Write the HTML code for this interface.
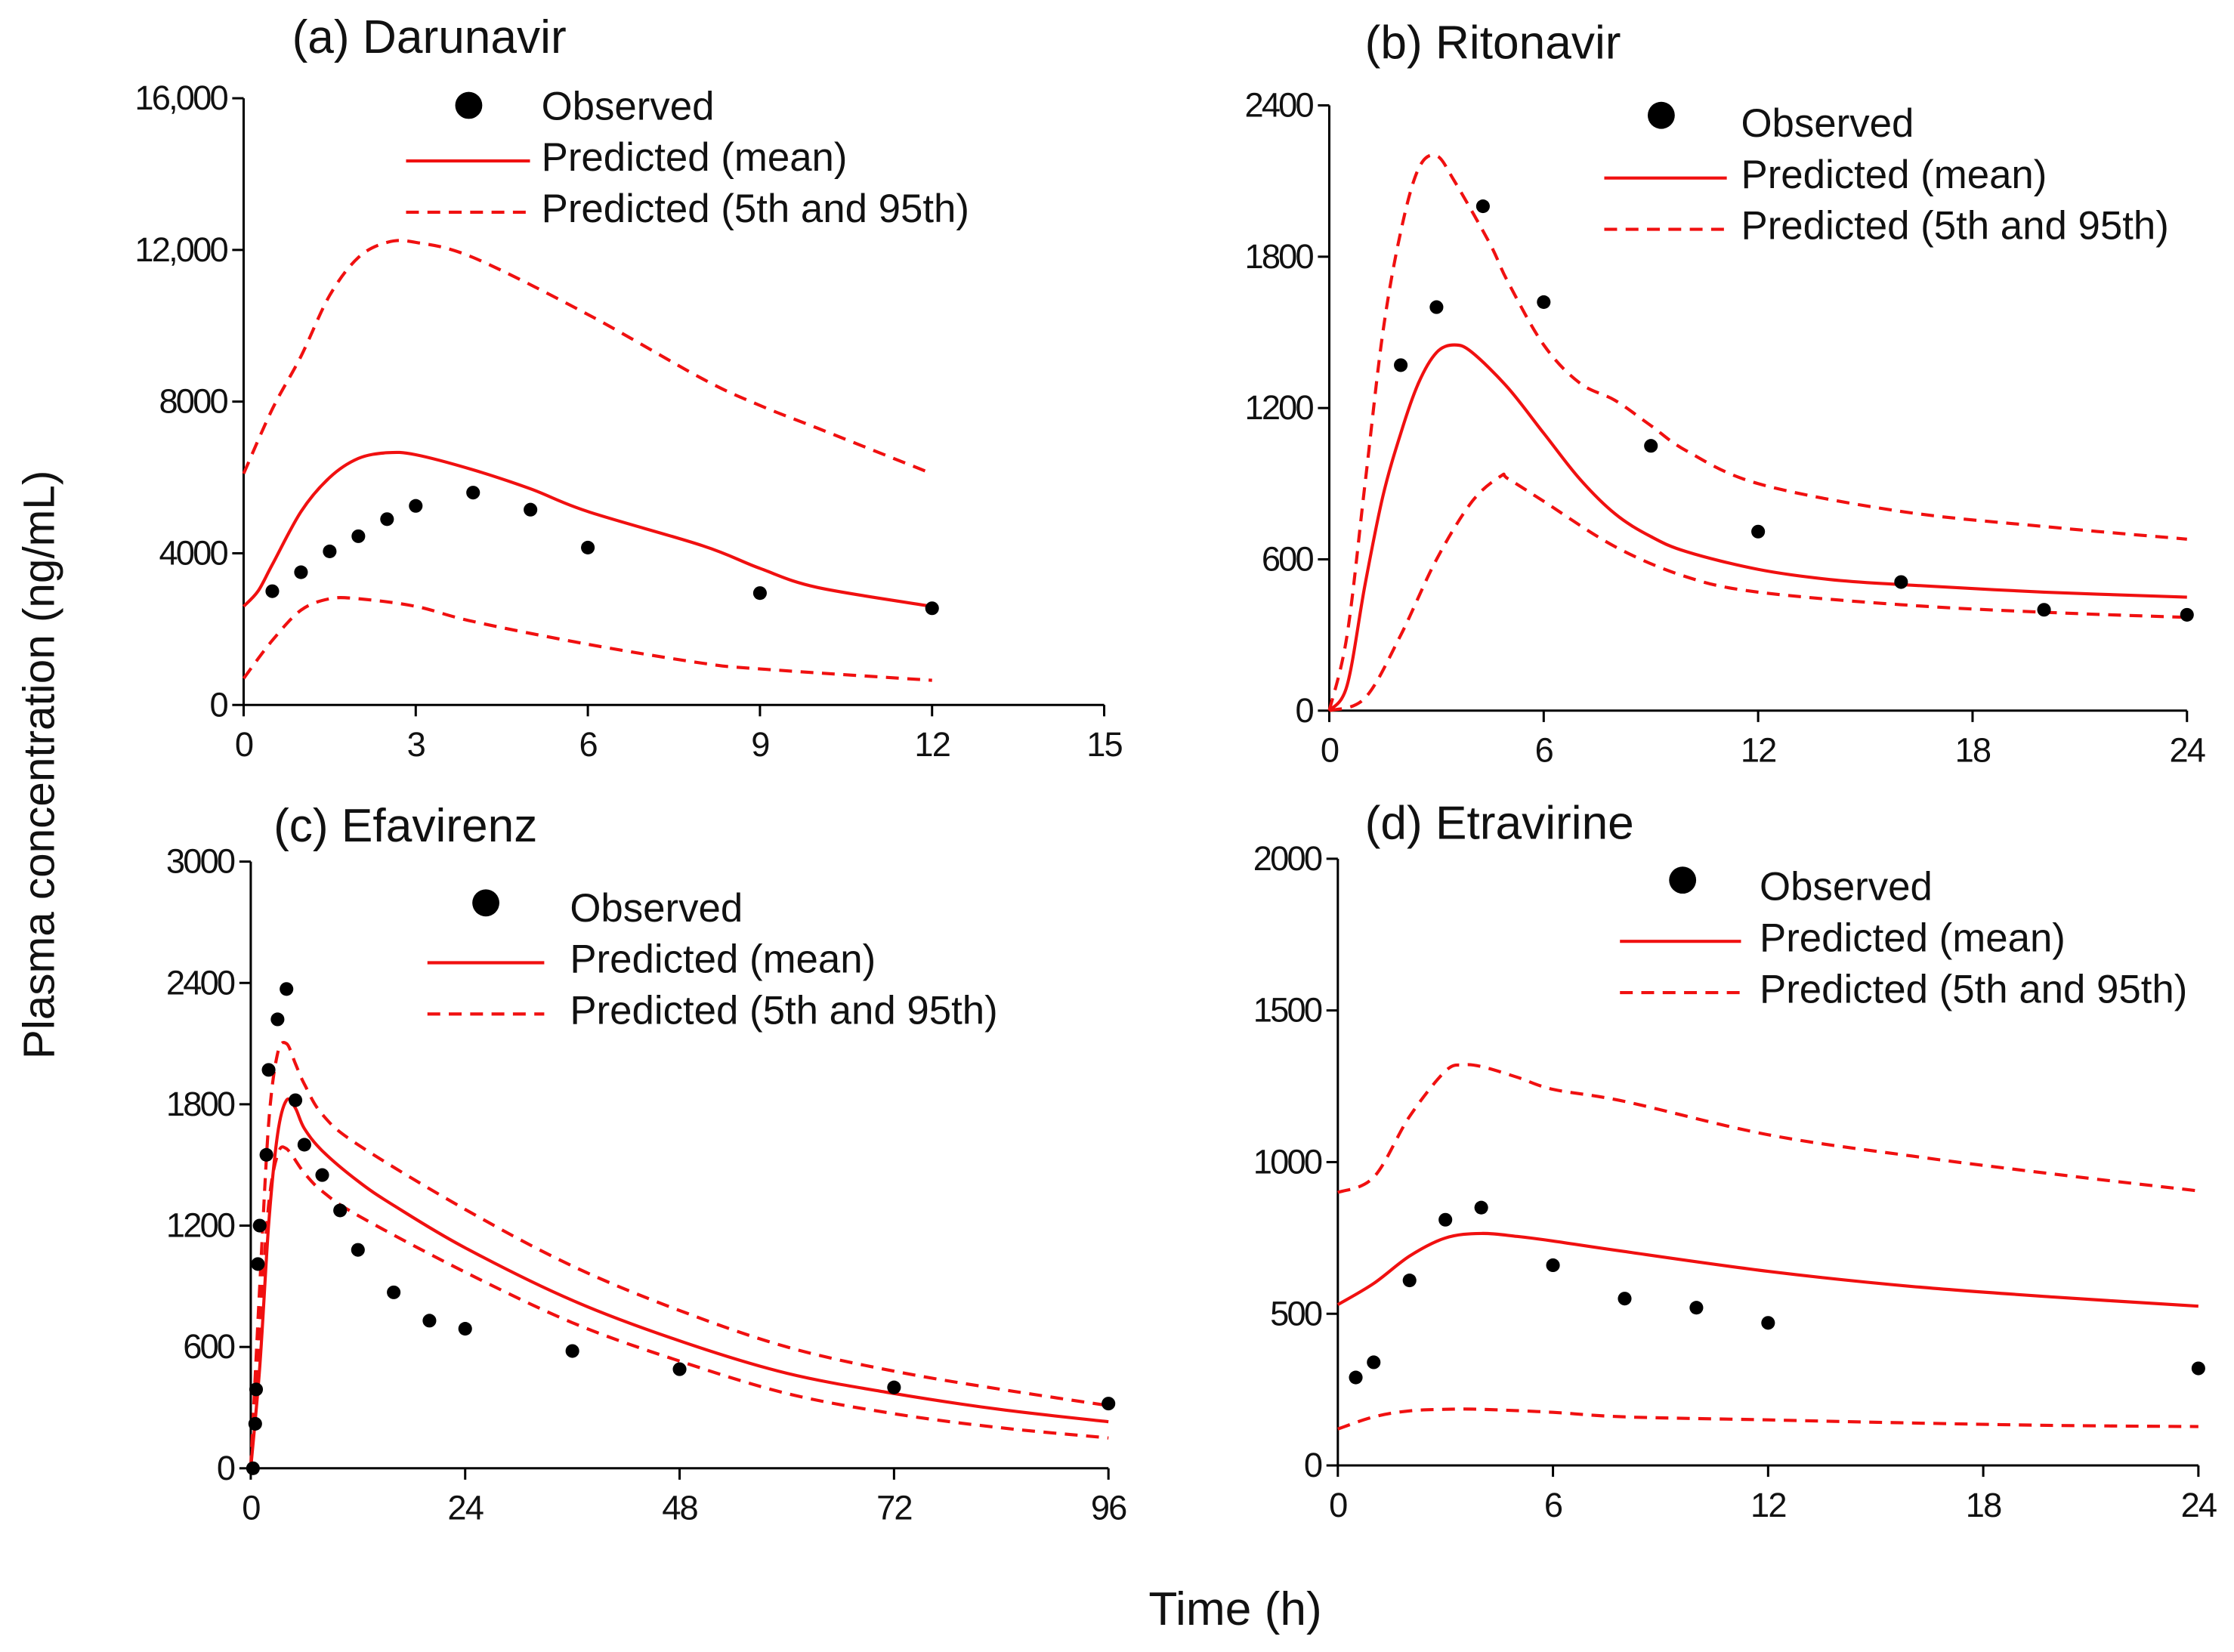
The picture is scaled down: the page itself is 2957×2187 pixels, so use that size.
<!DOCTYPE html>
<html><head><meta charset="utf-8"><style>
html,body{margin:0;padding:0;background:#fff}
svg{display:block}
text{font-family:"Liberation Sans",sans-serif;fill:#111}
</style></head><body>
<svg id="fig" width="2957" height="2187" viewBox="0 0 1568 1160" preserveAspectRatio="none" xmlns="http://www.w3.org/2000/svg">
<text transform="translate(38,537) rotate(-90)" text-anchor="middle" font-size="31">Plasma concentration (ng/mL)</text>
<text x="867" y="1141" text-anchor="middle" font-size="33">Time (h)</text>
</svg>
<script>
// Panel A: Darunavir
const aObsT=[0.5,1,1.5,2,2.5,3,4,5,6,9,12];
const aObsC=[3000,3500,4050,4450,4900,5250,5600,5150,4150,2950,2550];
const aMeanT=[0,0.25,0.5,1,1.5,2,2.5,3,4,5,6,8,9,10,12];
const aMeanC=[2600,3000,3700,5100,6000,6500,6650,6600,6200,5700,5100,4200,3600,3100,2600];
const aUpT=[0,0.5,1,1.5,2,2.5,3,4,6,8,9,10,12];
const aUpC=[6100,7800,9200,10800,11800,12200,12200,11800,10300,8600,7900,7300,6100];
const aLoT=[0,0.5,1,1.5,2,3,4,6,8,9,12];
const aLoC=[700,1700,2500,2800,2800,2600,2200,1600,1100,950,650];
const aXTicks=[0,3,6,9,12,15];
const aYTicks=[0,4000,8000,12000,16000];
const aYLabels=["0","4000","8000","12,000","16,000"];
// Panel B: Ritonavir
const bObsT=[2,3,4.3,6,9,12,16,20,24];
const bObsC=[1370,1600,2000,1620,1050,710,510,400,380];
const bMeanT=[0,0.5,1,1.5,2,2.5,3,3.5,4,5,6,7,8,9,10,12,14,16,20,24];
const bMeanC=[0,100,500,850,1100,1300,1420,1450,1420,1280,1100,920,780,690,630,560,520,500,470,450];
const bUpT=[0,0.5,1,1.5,2,2.5,3,3.5,4.5,5,6,7,8,9,10,12,16,20,24];
const bUpC=[0,300,900,1500,1900,2150,2200,2100,1850,1700,1450,1300,1230,1130,1030,900,790,730,680];
const bLoT=[0,1,2,3,4,4.8,5,6,8,10,12,16,20,24];
const bLoC=[0,50,300,600,830,930,920,830,650,530,470,420,390,370];
const bXTicks=[0,6,12,18,24];
const bYTicks=[0,600,1200,1800,2400];
const bYLabels=["0","600","1200","1800","2400"];
// Panel C: Efavirenz
const cObsT=[0.25,0.5,0.6,0.8,1,1.75,2,3,4,5,6,8,10,12,16,20,24,36,48,72,96];
const cObsC=[0,220,390,1010,1200,1550,1970,2220,2370,1820,1600,1450,1275,1080,870,730,690,580,490,400,320];
const cMeanT=[0,1,2,3,4,5,6,8,12,16,24,36,48,60,72,84,96];
const cMeanC=[0,500,1200,1650,1820,1780,1680,1570,1420,1300,1090,830,630,470,370,290,230];
const cUpT=[0,1,2,3,4,5,6,8,12,24,36,48,60,72,84,96];
const cUpC=[0,900,1700,2050,2100,2000,1900,1750,1600,1280,1000,780,600,480,390,310];
const cLoT=[0,1,2,3,4,6,8,12,24,36,48,60,72,84,96];
const cLoC=[0,700,1300,1550,1580,1460,1370,1250,970,720,530,370,270,200,150];
const cXTicks=[0,24,48,72,96];
const cYTicks=[0,600,1200,1800,2400,3000];
const cYLabels=["0","600","1200","1800","2400","3000"];
// Panel D: Etravirine
const dObsT=[0.5,1,2,3,4,6,8,10,12,24];
const dObsC=[290,340,610,810,850,660,550,520,470,320];
const dMeanT=[0,1,2,3,4,5,6,8,12,16,20,24];
const dMeanC=[530,600,690,750,765,755,740,705,640,590,555,525];
const dUpT=[0,1,2,3,3.5,4,5,6,8,12,16,20,24];
const dUpC=[900,950,1150,1300,1320,1315,1280,1240,1200,1090,1020,960,905];
const dLoT=[0,1,2,3,4,6,8,12,16,20,24];
const dLoC=[120,160,180,185,185,175,160,150,140,132,128];
const dXTicks=[0,6,12,18,24];
const dYTicks=[0,500,1000,1500,2000];
const dYLabels=["0","500","1000","1500","2000"];

const NS="http://www.w3.org/2000/svg";
const svg=document.getElementById('fig');
function mk(tag,attrs,parent){const e=document.createElementNS(NS,tag);for(const k in attrs)e.setAttribute(k,attrs[k]);(parent||svg).appendChild(e);return e;}

const panels=[
 {key:'a',title:'(a) Darunavir',tx:205,ty:37,x0:171,x1:775,xmax:15,y0:495,y1:69,ymax:16000,
  obsT:aObsT,obsC:aObsC,meanT:aMeanT,meanC:aMeanC,upT:aUpT,upC:aUpC,loT:aLoT,loC:aLoC,xt:aXTicks,yt:aYTicks,yl:aYLabels,
  leg:{dotX:329,dotY:74,tx:380,ys:[74,110,146],lx0:285,lx1:372}},
 {key:'b',title:'(b) Ritonavir',tx:958,ty:41,x0:933,x1:1535,xmax:24,y0:499,y1:74,ymax:2400,
  obsT:bObsT,obsC:bObsC,meanT:bMeanT,meanC:bMeanC,upT:bUpT,upC:bUpC,loT:bLoT,loC:bLoC,xt:bXTicks,yt:bYTicks,yl:bYLabels,
  leg:{dotX:1166,dotY:81,tx:1222,ys:[86,122,158],lx0:1126,lx1:1212}},
 {key:'c',title:'(c)  Efavirenz',tx:192,ty:591,x0:176,x1:778,xmax:96,y0:1031,y1:605,ymax:3000,
  obsT:cObsT,obsC:cObsC,meanT:cMeanT,meanC:cMeanC,upT:cUpT,upC:cUpC,loT:cLoT,loC:cLoC,xt:cXTicks,yt:cYTicks,yl:cYLabels,
  leg:{dotX:341,dotY:634,tx:400,ys:[637,673,709],lx0:300,lx1:382}},
 {key:'d',title:'(d)  Etravirine',tx:958,ty:589,x0:939,x1:1543,xmax:24,y0:1029,y1:603,ymax:2000,
  obsT:dObsT,obsC:dObsC,meanT:dMeanT,meanC:dMeanC,upT:dUpT,upC:dUpC,loT:dLoT,loC:dLoC,xt:dXTicks,yt:dYTicks,yl:dYLabels,
  leg:{dotX:1181,dotY:618,tx:1235,ys:[622,658,694],lx0:1137,lx1:1222}}
];

function smoothPath(pts){
  let d='M'+pts[0][0].toFixed(1)+','+pts[0][1].toFixed(1);
  for(let i=0;i<pts.length-1;i++){
    const p0=pts[Math.max(0,i-1)],p1=pts[i],p2=pts[i+1],p3=pts[Math.min(pts.length-1,i+2)];
    const c1=[p1[0]+(p2[0]-p0[0])/6,p1[1]+(p2[1]-p0[1])/6];
    const c2=[p2[0]-(p3[0]-p1[0])/6,p2[1]-(p3[1]-p1[1])/6];
    d+=` C${c1[0].toFixed(1)},${c1[1].toFixed(1)} ${c2[0].toFixed(1)},${c2[1].toFixed(1)} ${p2[0].toFixed(1)},${p2[1].toFixed(1)}`;
  }
  return d;
}

panels.forEach(p=>{
  const g=mk('g',{});
  
  
  const X=t=>p.x0+(t/p.xmax)*(p.x1-p.x0);
  const Y=c=>p.y0-(c/p.ymax)*(p.y0-p.y1);
  const title=mk('text',{x:p.tx,y:p.ty,'font-size':33},g);title.textContent=p.title;
  
  
  const ax=mk('path',{d:`M${p.x0},${p.y1} V${p.y0} H${p.x1}`,fill:'none',stroke:'#000','stroke-width':1.6},g);
  
  
  p.xt.forEach(v=>{
    mk('line',{x1:X(v),x2:X(v),y1:p.y0,y2:p.y0+8,stroke:'#000','stroke-width':1.6},g);
    const t=mk('text',{x:X(v),y:p.y0+36,'text-anchor':'middle','font-size':24,'letter-spacing':'-1'},g);t.textContent=v;
    
    
  });
  p.yt.forEach((v,i)=>{
    mk('line',{x1:p.x0-8,x2:p.x0,y1:Y(v),y2:Y(v),stroke:'#000','stroke-width':1.6},g);
    const t=mk('text',{x:p.x0-12,y:Y(v)+8,'text-anchor':'end','font-size':24,'letter-spacing':'-1.5'},g);t.textContent=p.yl[i];
    
    
  });
  const line=(T,C,dash,name)=>{
    const pts=T.map((t,i)=>[X(t),Y(C[i])]);
    const e=mk('path',{d:smoothPath(pts),fill:'none',stroke:'#f01010','stroke-width':2.2,'stroke-linejoin':'round'},g);
    if(dash)e.setAttribute('stroke-dasharray','9,6');
    
    
  };
  line(p.upT,p.upC,true,'predicted-95th-line');
  line(p.loT,p.loC,true,'predicted-5th-line');
  line(p.meanT,p.meanC,false,'predicted-mean-line');
  p.obsT.forEach((t,i)=>{
    const c=mk('circle',{cx:X(t),cy:Y(p.obsC[i]),r:4.8,fill:'#000'},g);
    
    
  });
  const L=p.leg;
  const lg=mk('g',{},g);
  
  
  mk('circle',{cx:L.dotX,cy:L.dotY,r:9.5,fill:'#000'},lg);
  mk('line',{x1:L.lx0,x2:L.lx1,y1:L.ys[1]+3,y2:L.ys[1]+3,stroke:'#f01010','stroke-width':2.2},lg);
  mk('line',{x1:L.lx0,x2:L.lx1,y1:L.ys[2]+3,y2:L.ys[2]+3,stroke:'#f01010','stroke-width':2.2,'stroke-dasharray':'9,6'},lg);
  ['Observed','Predicted (mean)','Predicted (5th and 95th)'].forEach((s,i)=>{
    const t=mk('text',{x:L.tx,y:L.ys[i]+10,'font-size':28},lg);t.textContent=s;
    
    
  });
});
</script>
</body></html>
